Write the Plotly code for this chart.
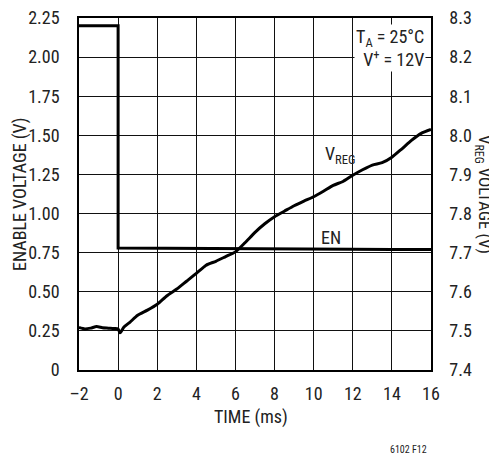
import plotly.graph_objects as go

# ---- data ----
en_time = [-2, 0, 0, 2, 4, 6, 8, 10, 12, 14, 16]
en_volt = [2.2, 2.2, 0.78, 0.778, 0.776, 0.775, 0.774, 0.773, 0.772, 0.771, 0.77]

vreg_time = [-2, -1.7, -1.4, -1.1, -0.8, -0.5, -0.2, 0, 0.1, 0.3, 0.6, 1.0, 1.5, 2.0, 2.5,
             3.0, 3.5, 4.0, 4.5, 5.0, 5.5, 6.0, 6.5, 7.0, 7.5, 8.0, 8.5, 9.0, 9.5, 10.0,
             10.5, 11.0, 11.5, 12.0, 12.5, 13.0, 13.5, 14.0, 14.5, 15.0, 15.5, 16.0]
vreg_volt = [7.509, 7.505, 7.507, 7.511, 7.508, 7.507, 7.506, 7.505, 7.495, 7.51, 7.522, 7.54,
             7.553, 7.568, 7.59, 7.607, 7.627, 7.647, 7.668, 7.678, 7.69, 7.702, 7.726, 7.752,
             7.774, 7.792, 7.806, 7.82, 7.832, 7.843, 7.857, 7.872, 7.882, 7.898, 7.912, 7.924,
             7.93, 7.944, 7.965, 7.987, 8.005, 8.015]

x_ticks = [-2, 0, 2, 4, 6, 8, 10, 12, 14, 16]
x_ticktext = ["\u20132", "0", "2", "4", "6", "8", "10", "12", "14", "16"]
y1_ticks = [0, 0.25, 0.5, 0.75, 1.0, 1.25, 1.5, 1.75, 2.0, 2.25]
y1_ticktext = ["0", "0.25", "0.50", "0.75", "1.00", "1.25", "1.50", "1.75", "2.00", "2.25"]
y2_ticks = [7.4, 7.5, 7.6, 7.7, 7.8, 7.9, 8.0, 8.1, 8.2, 8.3]
y2_ticktext = ["7.4", "7.5", "7.6", "7.7", "7.8", "7.9", "8.0", "8.1", "8.2", "8.3"]

FONT = "Liberation Sans Narrow, Arial Narrow, Roboto Condensed, sans-serif"
FS = 18
OFF = 8  # page body margin in the browser
W, H = 497 - OFF, 454 - OFF
L, R, T, B = 79 - OFF, 431 - OFF, 18 - OFF, 370 - OFF
pw, ph = R - L, B - T


def px(x):
    return (x - OFF - L) / pw


def py(y):
    return (B - (y - OFF)) / ph


fig = go.Figure()
fig.add_trace(go.Scatter(x=en_time, y=en_volt, mode="lines",
                         line=dict(color="black", width=3), yaxis="y", showlegend=False,
                         hoverinfo="skip"))
fig.add_trace(go.Scatter(x=vreg_time, y=vreg_volt, mode="lines",
                         line=dict(color="black", width=3, shape="spline", smoothing=0.6),
                         yaxis="y2", showlegend=False, hoverinfo="skip"))

axis_common = dict(ticks="", tickfont=dict(family=FONT, size=FS, color="#222"),
                   zeroline=False, showline=True, linecolor="black", linewidth=1.5,
                   automargin=False, ticklabeloverflow="allow")

fig.update_layout(
    width=W, height=H,
    margin=dict(l=L, r=W - R, t=T, b=H - B, pad=0, autoexpand=False),
    paper_bgcolor="white", plot_bgcolor="white",
    font=dict(family=FONT, size=FS, color="#222"),
    xaxis=dict(range=[-2, 16], tickvals=x_ticks, ticktext=x_ticktext,
               showgrid=True, gridcolor="#111", gridwidth=1.2, ticklabelstandoff=7,
               mirror=True, **axis_common),
    yaxis=dict(range=[0, 2.25], tickvals=y1_ticks, ticktext=y1_ticktext,
               showgrid=True, gridcolor="#111", gridwidth=1.2, ticklabelstandoff=14,
               mirror=True, **axis_common),
    yaxis2=dict(range=[7.4, 8.3], tickvals=y2_ticks, ticktext=y2_ticktext,
                overlaying="y", side="right", showgrid=False, ticklabelstandoff=13,
                **axis_common),
)

ann = []
ann.append(dict(x=px(251), y=py(417), xref="paper", yref="paper", text="TIME (ms)",
                xanchor="center", yanchor="middle", showarrow=False, font=dict(size=FS)))
ann.append(dict(x=px(20), y=py(194), xref="paper", yref="paper", text="ENABLE VOLTAGE (V)",
                xanchor="center", yanchor="middle",
                showarrow=False, textangle=-90, font=dict(size=FS)))
ann.append(dict(x=px(484), y=py(194), xref="paper", yref="paper",
                text="V<sub>REG</sub> VOLTAGE (V)", xanchor="center", yanchor="middle",
                showarrow=False, textangle=90, font=dict(size=17)))
ann.append(dict(x=px(426), y=py(24), xref="paper", yref="paper", xanchor="right", yanchor="top",
                text="T<sub>A</sub> = 25°C<br>V<sup>+</sup> = 12V", align="right",
                showarrow=False, bgcolor="white", font=dict(size=FS)))
ann.append(dict(x=11.36, y=1.375, xref="x", yref="y", text="V<sub>REG</sub>",
                xanchor="center", yanchor="middle", showarrow=False, font=dict(size=FS)))
ann.append(dict(x=10.9, y=0.845, xref="x", yref="y", text="EN",
                xanchor="center", yanchor="middle", showarrow=False, font=dict(size=FS)))
ann.append(dict(x=px(408), y=py(449), xref="paper", yref="paper", text="6102 F12",
                xanchor="center", yanchor="middle", showarrow=False, font=dict(size=10)))
fig.update_layout(annotations=ann)

fig.write_html("out.html")
